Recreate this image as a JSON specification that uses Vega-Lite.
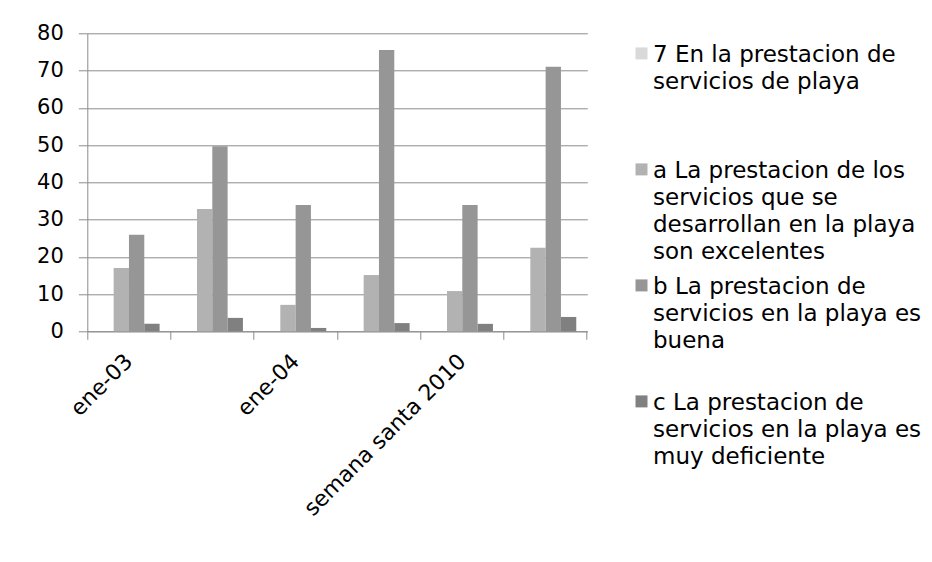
{
  "$schema": "https://vega.github.io/schema/vega-lite/v6.json",
  "width": 500,
  "height": 298,
  "autosize": {"type": "none"},
  "padding": {"left": 87.3, "top": 33.3, "right": 344.7, "bottom": 230.7},
  "background": "white",
  "data": {
    "values": [
      {"periodo": "ene-03", "serie": "a La prestacion de los servicios que se desarrollan en la playa son excelentes", "valor": 17},
      {"periodo": "ene-03", "serie": "b La prestacion de servicios en la playa es buena", "valor": 25.9},
      {"periodo": "ene-03", "serie": "c La prestacion de servicios en la playa es muy deficiente", "valor": 2},
      {"periodo": "periodo 2", "serie": "a La prestacion de los servicios que se desarrollan en la playa son excelentes", "valor": 32.8},
      {"periodo": "periodo 2", "serie": "b La prestacion de servicios en la playa es buena", "valor": 49.7},
      {"periodo": "periodo 2", "serie": "c La prestacion de servicios en la playa es muy deficiente", "valor": 3.6},
      {"periodo": "ene-04", "serie": "a La prestacion de los servicios que se desarrollan en la playa son excelentes", "valor": 7.1},
      {"periodo": "ene-04", "serie": "b La prestacion de servicios en la playa es buena", "valor": 33.9},
      {"periodo": "ene-04", "serie": "c La prestacion de servicios en la playa es muy deficiente", "valor": 0.9},
      {"periodo": "periodo 4", "serie": "a La prestacion de los servicios que se desarrollan en la playa son excelentes", "valor": 15.1},
      {"periodo": "periodo 4", "serie": "b La prestacion de servicios en la playa es buena", "valor": 75.5},
      {"periodo": "periodo 4", "serie": "c La prestacion de servicios en la playa es muy deficiente", "valor": 2.2},
      {"periodo": "semana santa 2010", "serie": "a La prestacion de los servicios que se desarrollan en la playa son excelentes", "valor": 10.8},
      {"periodo": "semana santa 2010", "serie": "b La prestacion de servicios en la playa es buena", "valor": 33.9},
      {"periodo": "semana santa 2010", "serie": "c La prestacion de servicios en la playa es muy deficiente", "valor": 2},
      {"periodo": "periodo 6", "serie": "a La prestacion de los servicios que se desarrollan en la playa son excelentes", "valor": 22.4},
      {"periodo": "periodo 6", "serie": "b La prestacion de servicios en la playa es buena", "valor": 71},
      {"periodo": "periodo 6", "serie": "c La prestacion de servicios en la playa es muy deficiente", "valor": 3.85}
    ]
  },
  "mark": {"type": "bar"},
  "encoding": {
    "x": {
      "field": "periodo",
      "type": "nominal",
      "sort": null,
      "scale": {"paddingInner": 0, "paddingOuter": 0},
      "axis": {
        "title": null,
        "bandPosition": 1,
        "tickExtra": true,
        "labelOffset": 0,
        "grid": false,
        "tickSize": 8,
        "tickColor": "#8c8c8c",
        "domainColor": "#8c8c8c",
        "labelAngle": -45,
        "labelAlign": "right",
        "labelBaseline": "middle",
        "labelPadding": 18,
        "labelLimit": 400,
        "labelFont": "DejaVu Sans",
        "labelFontSize": 22,
        "labelColor": "#000000",
        "labelOverlap": false,
        "labelExpr": "indexof(['ene-03','ene-04','semana santa 2010'], datum.label) >= 0 ? datum.label : ''"
      }
    },
    "xOffset": {
      "field": "serie",
      "type": "nominal",
      "scale": {
        "domain": [
          "7 En la prestacion de servicios de playa",
          "a La prestacion de los servicios que se desarrollan en la playa son excelentes",
          "b La prestacion de servicios en la playa es buena",
          "c La prestacion de servicios en la playa es muy deficiente"
        ],
        "paddingInner": 0,
        "paddingOuter": 0.72
      }
    },
    "y": {
      "field": "valor",
      "type": "quantitative",
      "scale": {"domain": [0, 80], "nice": false},
      "axis": {
        "title": null,
        "values": [0, 10, 20, 30, 40, 50, 60, 70, 80],
        "grid": true,
        "gridColor": "#8c8c8c",
        "gridWidth": 1,
        "tickSize": 9,
        "tickColor": "#8c8c8c",
        "domainColor": "#8c8c8c",
        "labelPadding": 15,
        "labelFont": "DejaVu Sans",
        "labelFontSize": 21,
        "labelColor": "#000000"
      }
    },
    "color": {
      "field": "serie",
      "type": "nominal",
      "scale": {
        "domain": [
          "7 En la prestacion de servicios de playa",
          "a La prestacion de los servicios que se desarrollan en la playa son excelentes",
          "b La prestacion de servicios en la playa es buena",
          "c La prestacion de servicios en la playa es muy deficiente"
        ],
        "range": ["#d9d9d9", "#b2b2b2", "#969696", "#808080"]
      },
      "legend": {
        "title": null,
        "orient": "none",
        "legendX": 542.7,
        "legendY": -1,
        "padding": 0,
        "symbolType": "M-1,0.6H1V2.6H-1Z",
        "symbolSize": 144,
        "symbolStrokeWidth": 0,
        "symbolOpacity": 1,
        "labelFont": "DejaVu Sans",
        "labelFontSize": 23,
        "labelColor": "#000000",
        "labelBaseline": "top",
        "labelOffset": 0,
        "labelLimit": 400,
        "rowPadding": 0,
        "labelExpr": "datum.label == '7 En la prestacion de servicios de playa' ? ['7 En la prestacion de', 'servicios de playa', ' ', ' '] : datum.label == 'a La prestacion de los servicios que se desarrollan en la playa son excelentes' ? ['a La prestacion de los', 'servicios que se', 'desarrollan en la playa', 'son excelentes'] : datum.label == 'b La prestacion de servicios en la playa es buena' ? ['b La prestacion de', 'servicios en la playa es', 'buena', ' '] : ['c La prestacion de', 'servicios en la playa es', 'muy deficiente', ' ']"
      }
    }
  },
  "config": {
    "view": {"stroke": null},
    "style": {"guide-label": {"lineHeight": 27}}
  }
}
